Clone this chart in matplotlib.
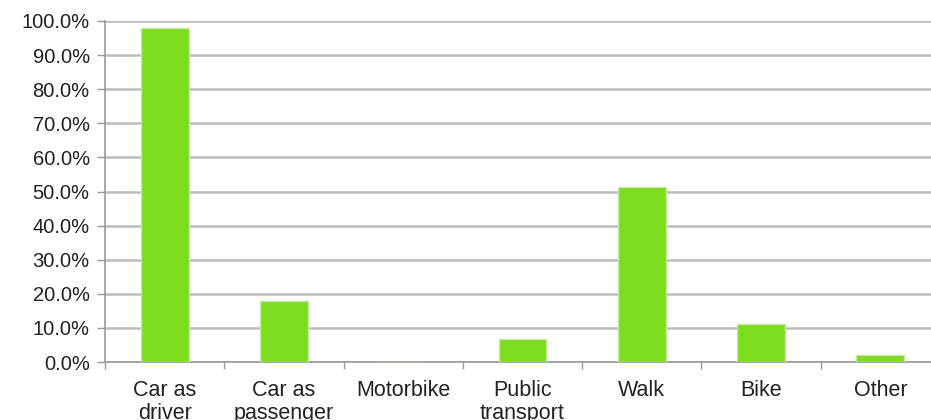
import matplotlib.pyplot as plt
from matplotlib.ticker import MultipleLocator, PercentFormatter

categories = ["Car as\ndriver", "Car as\npassenger", "Motorbike", "Public\ntransport", "Walk", "Bike", "Other"]
shares = [97.9, 17.9, 0.0, 6.7, 51.3, 11.1, 2.1]

plt.rcParams['font.family'] = ['Liberation Sans', 'DejaVu Sans']

fig = plt.figure(figsize=(9.31, 4.2), dpi=100)
# plot area runs past the right edge of the picture, as in the original
ax = fig.add_axes([105 / 931, 1 - 362 / 420, 835 / 931, 341 / 420])

x = range(len(categories))
ax.bar(x, shares, width=0.4, color="#7cdd1f", edgecolor="#c4e8a8", linewidth=1, zorder=3)

ax.set_xlim(-0.5, len(categories) - 0.5)
ax.set_ylim(0, 100)
ax.yaxis.set_major_locator(MultipleLocator(10))
ax.yaxis.set_major_formatter(PercentFormatter(decimals=1))
ax.grid(axis="y", color="#bcbcbc", linewidth=1.8, zorder=0)

ax.set_xticks([i - 0.5 for i in range(len(categories) + 1)])
ax.set_xticklabels([])
ax.set_xticks(list(x), minor=True)
ax.set_xticklabels(categories, minor=True, fontsize=15.5, color="#222222", va="top", linespacing=1.1)
ax.tick_params(axis="x", which="minor", length=0, pad=13)
ax.tick_params(axis="x", which="major", length=5, width=1, color="#999999")
ax.tick_params(axis="y", length=6, width=1, color="#999999", labelsize=14.5, labelcolor="#222222", pad=5)

for side in ["top", "right"]:
    ax.spines[side].set_visible(False)
ax.spines["left"].set_color("#999999")
ax.spines["bottom"].set_color("#999999")
ax.spines["left"].set_linewidth(1.2)
ax.spines["bottom"].set_linewidth(1.2)

fig.savefig("out.png", dpi=100)
